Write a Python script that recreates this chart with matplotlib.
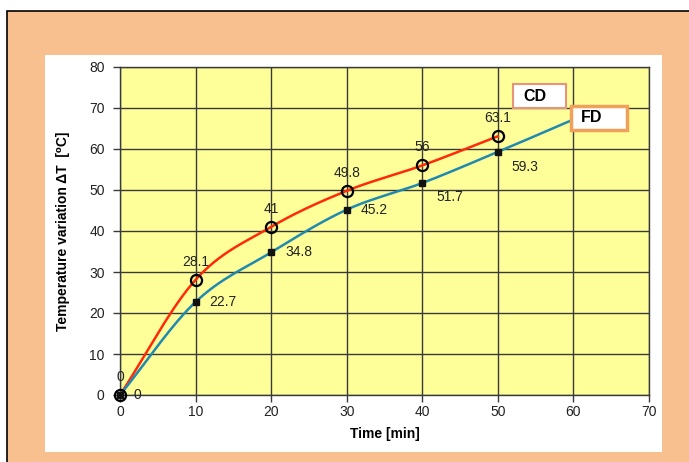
import numpy as np
import matplotlib.pyplot as plt
from matplotlib.patches import Rectangle

plt.rcParams['font.family'] = ['Liberation Sans', 'DejaVu Sans']

# data
time_cd = [0, 10, 20, 30, 40, 50]
temp_cd = [0, 28.1, 41, 49.8, 56, 63.1]
time_fd = [0, 10, 20, 30, 40, 50]
temp_fd = [0, 22.7, 34.8, 45.2, 51.7, 59.3]
# FD curve continues to the label box without a marker
time_fd_end = 60
temp_fd_end = 67.2

x_ticks = [0, 10, 20, 30, 40, 50, 60, 70]
y_ticks = [0, 10, 20, 30, 40, 50, 60, 70, 80]

RED = "#FF2A0A"
TEAL = "#2089B0"
W, H = 689, 462


def smooth(xs, ys, n=30):
    # Catmull-Rom style smoothing, like a spreadsheet "smoothed line"
    p = np.column_stack([xs, ys]).astype(float)
    p = np.vstack([p[0] - (p[1] - p[0]), p, p[-1] + (p[-1] - p[-2])])
    out = []
    t = np.linspace(0, 1, n)[:, None]
    for i in range(1, len(p) - 2):
        p0, p1, p2, p3 = p[i - 1], p[i], p[i + 1], p[i + 2]
        seg = 0.5 * ((2 * p1) + (-p0 + p2) * t + (2 * p0 - 5 * p1 + 4 * p2 - p3) * t ** 2
                     + (-p0 + 3 * p1 - 3 * p2 + p3) * t ** 3)
        out.append(seg if i == 1 else seg[1:])
    out = np.vstack(out)
    return out[:, 0], out[:, 1]


def px_rect(x0, y0, x1, y1, **kw):
    return Rectangle((x0 / W, 1 - y1 / H), (x1 - x0) / W, (y1 - y0) / H,
                     transform=fig.transFigure, **kw)


fig = plt.figure(figsize=(W / 100, H / 100), dpi=100)
fig.patch.set_facecolor("white")
fig.patches.append(px_rect(7, 11, 700, 480, facecolor="#F8C08F", edgecolor="black", lw=1.2, zorder=-2))
fig.patches.append(px_rect(45, 55, 662, 452, facecolor="white", edgecolor="none", zorder=-1))

ax = fig.add_axes([120 / W, 1 - 395 / H, 529 / W, 328 / H])
ax.set_zorder(1)
ax.set_facecolor("#FFFF99")
ax.set_xlim(0, 70)
ax.set_ylim(0, 80)
ax.set_xticks(x_ticks)
ax.set_yticks(y_ticks)
ax.grid(True, color="#3a3a3a", lw=1.0)
ax.set_axisbelow(True)
for s in ax.spines.values():
    s.set_color("#3a3a3a")
    s.set_linewidth(1.0)
ax.tick_params(direction="out", length=5, width=1, color="#3a3a3a",
               labelsize=10, labelcolor="#222222")
ax.tick_params(axis="y", pad=6)
ax.tick_params(axis="x", pad=2)

sx, sy = smooth(time_cd, temp_cd)
ax.plot(sx, sy, color=RED, lw=1.8, zorder=3)
sx, sy = smooth(time_fd + [time_fd_end], temp_fd + [temp_fd_end])
ax.plot(sx, sy, color=TEAL, lw=1.8, zorder=3)

ax.plot(time_cd, temp_cd, ls="none", marker="o", ms=8, mfc="none", mec="black", mew=1.6,
        zorder=4, clip_on=False)
ax.plot(time_fd, temp_fd, ls="none", marker="s", ms=5, mfc="#111111", mec="#111111",
        zorder=4, clip_on=False)

for x, y in zip(time_cd, temp_cd):
    ax.annotate(f"{y:g}", (x, y), xytext=(0, 13), textcoords="offset points",
                ha="center", va="center", fontsize=10, color="#222222")
fd_offsets = [(10, 0), (10, 0), (10, 0), (10, 0), (10, -10), (10, -11)]
for (x, y), (dx, dy) in zip(zip(time_fd, temp_fd), fd_offsets):
    ax.annotate(f"{y:g}", (x, y), xytext=(dx, dy), textcoords="offset points",
                ha="left", va="center", fontsize=10, color="#222222")

ax.set_xlabel("Time [min]", fontsize=10, fontweight="bold", labelpad=6)
ax.set_ylabel("Temperature variation \u0394T  [\u2070C]", fontsize=10, fontweight="bold", labelpad=14)

fig.patches.append(px_rect(513, 84, 566, 108, facecolor="white", edgecolor="#E8937A", lw=1.5, zorder=5))
fig.text(523 / W, 1 - 96 / H, "CD", fontsize=11.5, fontweight="bold", va="center", ha="left", zorder=6)
fig.patches.append(px_rect(571, 106, 627, 130, facecolor="white", edgecolor="#F0A05A", lw=2.5, zorder=5))
fig.text(581 / W, 1 - 118 / H, "FD", fontsize=11.5, fontweight="bold", va="center", ha="left", zorder=6)

fig.savefig("out.png", dpi=100)
